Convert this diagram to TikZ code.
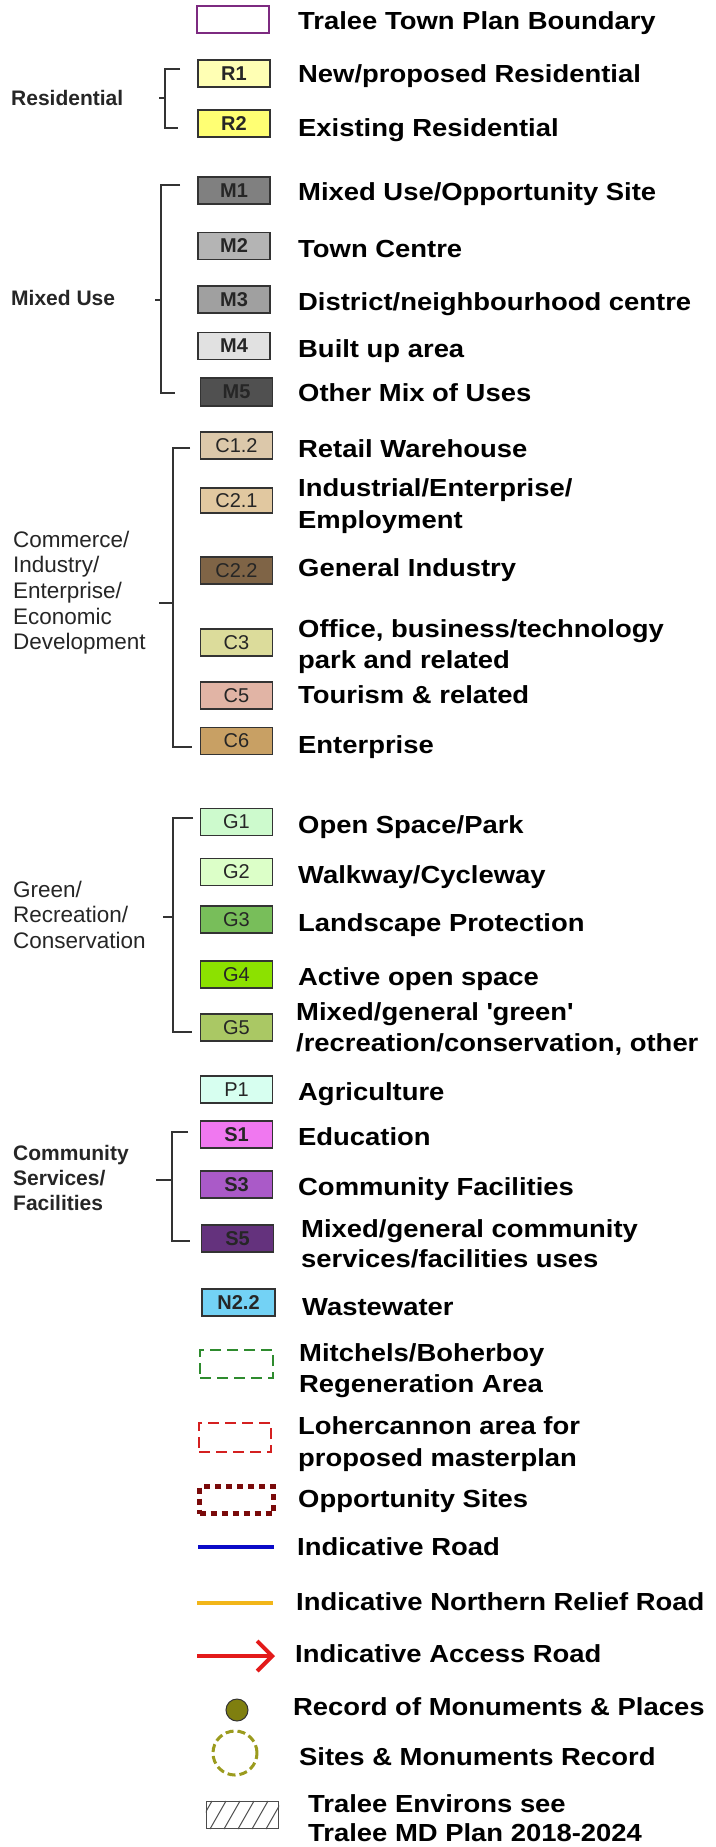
\documentclass[tikz,border=0pt]{standalone}
\usepackage{fontspec}
\setmainfont{Liberation Sans}
\newfontfamily\widefont[FakeStretch=1.11]{Liberation Sans}
\usetikzlibrary{arrows.meta}
\definecolor{bndc}{HTML}{7D2A80}
\definecolor{rA}{HTML}{FFFFB4}
\definecolor{rB}{HTML}{FFFF73}
\definecolor{mA}{HTML}{808080}
\definecolor{mB}{HTML}{B4B4B4}
\definecolor{mC}{HTML}{A0A0A0}
\definecolor{mD}{HTML}{E1E1E1}
\definecolor{mE}{HTML}{505050}
\definecolor{cA}{HTML}{DCC8AA}
\definecolor{cB}{HTML}{E1C8A0}
\definecolor{cC}{HTML}{7F6446}
\definecolor{cD}{HTML}{DCDC9B}
\definecolor{cE}{HTML}{E1B4A5}
\definecolor{cF}{HTML}{C8A064}
\definecolor{gA}{HTML}{CDFACD}
\definecolor{gB}{HTML}{DCFFC8}
\definecolor{gC}{HTML}{78BE5A}
\definecolor{gD}{HTML}{8CE100}
\definecolor{gE}{HTML}{AAC864}
\definecolor{pA}{HTML}{D7FFF0}
\definecolor{sA}{HTML}{F078F0}
\definecolor{sB}{HTML}{AA5AC8}
\definecolor{sC}{HTML}{64327D}
\definecolor{nA}{HTML}{73D2F5}
\definecolor{dgreen}{HTML}{2E8B2E}
\definecolor{dred}{HTML}{D42020}
\definecolor{maroon}{HTML}{7A0A0A}
\definecolor{roadblue}{HTML}{0A0AC8}
\definecolor{roadyellow}{HTML}{F2B619}
\definecolor{arrowred}{HTML}{E31A1A}
\definecolor{olivedot}{HTML}{7F7F0F}
\definecolor{olivering}{HTML}{9B9B1E}
\tikzset{
  lbl/.style={anchor=base west, inner sep=0pt, text=black, font={\widefont\bfseries\fontsize{24.7}{28}\selectfont}},
  grp/.style={anchor=base west, inner sep=0pt, text=black!85, font={\bfseries\fontsize{21}{25}\selectfont}},
  grpl/.style={anchor=base west, inner sep=0pt, text=black!85, font={\fontsize{22.5}{25}\selectfont}},
  sw/.style={draw=black!80, line width=1.3pt, minimum width=72pt, minimum height=27pt, inner sep=0pt, text=black!85, font={\bfseries\fontsize{20}{20}\selectfont}},
  swr/.style={sw, font={\fontsize{20}{20}\selectfont}},
  br/.style={draw=black!80, line width=1.4pt},
}
\begin{document}
\begin{tikzpicture}[x=1pt, y=-1pt]
\useasboundingbox (0,0) rectangle (715,1847);
\fill[white] (0,0) rectangle (715,1847);

% ---------- swatches ----------
\node[draw=bndc, line width=2.5pt, minimum width=72pt, minimum height=27pt, inner sep=0pt] (bnd) at (233,19.5) {};
\node[sw, fill=rA] (r1) at (234,73.5) {R1};
\node[sw, fill=rB] (r2) at (234,123.5) {R2};
\node[sw, fill=mA] (m1) at (234,190.5) {M1};
\node[sw, fill=mB] (m2) at (234,246) {M2};
\node[sw, fill=mC] (m3) at (234,299.5) {M3};
\node[sw, fill=mD] (m4) at (234,346) {M4};
\node[sw, fill=mE, minimum height=28pt] (m5) at (236.5,392) {M5};
\node[swr, fill=cA] (c12) at (236.5,445.5) {C1.2};
\node[swr, fill=cB, minimum height=25pt] (c21) at (236.5,500.5) {C2.1};
\node[swr, fill=cC] (c22) at (236.5,570.5) {C2.2};
\node[swr, fill=cD] (c3) at (236.5,642.5) {C3};
\node[swr, fill=cE] (c5) at (236.5,695.5) {C5};
\node[swr, fill=cF] (c6) at (236.5,741) {C6};
\node[swr, fill=gA] (g1) at (236.5,822) {G1};
\node[swr, fill=gB] (g2) at (236.5,872) {G2};
\node[swr, fill=gC] (g3) at (236.5,919.5) {G3};
\node[swr, fill=gD] (g4) at (236.5,974.5) {G4};
\node[swr, fill=gE] (g5) at (236.5,1027.5) {G5};
\node[swr, fill=pA] (p1) at (236.5,1089.5) {P1};
\node[sw, fill=sA] (s1) at (236.5,1134.5) {S1};
\node[sw, fill=sB] (s3) at (236.5,1184.5) {S3};
\node[sw, fill=sC] (s5) at (237.5,1238.5) {S5};
\node[sw, fill=nA, minimum width=73pt] (n22) at (238.5,1302.5) {N2.2};
\node[draw=dgreen, line width=2.5pt, dash pattern=on 11pt off 6pt, minimum width=73pt, minimum height=28pt, inner sep=0pt] (gd) at (236.5,1364) {};
\node[draw=dred, line width=2.5pt, dash pattern=on 11pt off 6pt, minimum width=72pt, minimum height=29pt, inner sep=0pt] (rd) at (235,1437.5) {};
\node[draw=maroon, line width=5pt, dash pattern=on 6pt off 5pt, minimum width=74pt, minimum height=27pt, inner sep=0pt] (op) at (236.5,1500) {};
\coordinate (bl1) at (198,1547);
\coordinate (bl2) at (274,1547);
\draw[roadblue, line width=3.5pt] (bl1) -- (bl2);
\coordinate (yl1) at (197,1603);
\coordinate (yl2) at (273,1603);
\draw[roadyellow, line width=4pt] (yl1) -- (yl2);
\coordinate (ar1) at (197,1656);
\coordinate (ar2) at (275,1656);
\draw[arrowred, line width=4pt, -{Straight Barb[length=15pt,width=30pt]}] (ar1) -- (ar2);
\node[circle, fill=olivedot, draw=black!80, line width=1pt, minimum size=22pt, inner sep=0pt] (rmp) at (237,1710) {};
\node[circle, draw=olivering, line width=3pt, dash pattern=on 8pt off 4pt, minimum size=44pt, inner sep=0pt] (smr) at (235,1753) {};
\node[draw=black!70, line width=1.2pt, minimum width=72pt, minimum height=27pt, inner sep=0pt] (hx) at (242.5,1815) {};
\begin{scope}
\clip (hx.south west) rectangle (hx.north east);
\foreach \k in {0,...,6} {
  \draw[black!70, line width=1pt] (196+\k*14,1829) -- (212+\k*14,1801);
}
\end{scope}

% ---------- brackets ----------
\draw[br] (180,69) -- (165,69) -- (165,128) -- (178,128);
\draw[br] (159,98) -- (165,98);
\draw[br] (180,185) -- (161,185) -- (161,393) -- (175,393);
\draw[br] (155,300) -- (161,300);
\draw[br] (190,448) -- (173,448) -- (173,747) -- (192,747);
\draw[br] (159,603) -- (173,603);
\draw[br] (193,818) -- (173,818) -- (173,1032) -- (192,1032);
\draw[br] (163,917) -- (173,917);
\draw[br] (188,1132) -- (172,1132) -- (172,1241) -- (190,1241);
\draw[br] (156,1180) -- (172,1180);

% ---------- group labels ----------
\node[grp] (lres) at (11,105) {Residential};
\node[grp] (lmix) at (11,305) {Mixed Use};
\node[grpl] (lcom1) at (13,547) {Commerce/};
\node[grpl] (lcom2) at (13,572.7) {Industry/};
\node[grpl] (lcom3) at (13,598.4) {Enterprise/};
\node[grpl] (lcom4) at (13,624.1) {Economic};
\node[grpl] (lcom5) at (13,649.8) {Development};
\node[grpl] (lgr1) at (13,897) {Green/};
\node[grpl] (lgr2) at (13,922.5) {Recreation/};
\node[grpl] (lgr3) at (13,948) {Conservation};
\node[grp] (lcs1) at (13,1160) {Community};
\node[grp] (lcs2) at (13,1185) {Services/};
\node[grp] (lcs3) at (13,1210) {Facilities};

% ---------- item labels ----------
\node[lbl] (t1) at (298,29) {Tralee Town Plan Boundary};
\node[lbl] (t2) at (298,82) {New/proposed Residential};
\node[lbl] (t3) at (298,136) {Existing Residential};
\node[lbl] (t4) at (298,200) {Mixed Use/Opportunity Site};
\node[lbl] (t5) at (298,257) {Town Centre};
\node[lbl] (t6) at (298,310) {District/neighbourhood centre};
\node[lbl] (t7) at (298,357) {Built up area};
\node[lbl] (t8) at (298,401) {Other Mix of Uses};
\node[lbl] (t9) at (298,457) {Retail Warehouse};
\node[lbl] (t10a) at (298,496) {Industrial/Enterprise/};
\node[lbl] (t10b) at (298,528) {Employment};
\node[lbl] (t11) at (298,576) {General Industry};
\node[lbl] (t12a) at (298,637) {Office, business/technology};
\node[lbl] (t12b) at (298,668) {park and related};
\node[lbl] (t13) at (298,703) {Tourism \& related};
\node[lbl] (t14) at (298,753) {Enterprise};
\node[lbl] (t15) at (298,833) {Open Space/Park};
\node[lbl] (t16) at (298,883) {Walkway/Cycleway};
\node[lbl] (t17) at (298,931) {Landscape Protection};
\node[lbl] (t18) at (298,985) {Active open space};
\node[lbl] (t19a) at (296,1020) {Mixed/general \textquotesingle green\textquotesingle};
\node[lbl] (t19b) at (296,1051) {/recreation/conservation, other};
\node[lbl] (t20) at (298,1100) {Agriculture};
\node[lbl] (t21) at (298,1145) {Education};
\node[lbl] (t22) at (298,1195) {Community Facilities};
\node[lbl] (t23a) at (301,1237) {Mixed/general community};
\node[lbl] (t23b) at (301,1267) {services/facilities uses};
\node[lbl] (t24) at (302,1315) {Wastewater};
\node[lbl] (t25a) at (299,1361) {Mitchels/Boherboy};
\node[lbl] (t25b) at (299,1392) {Regeneration Area};
\node[lbl] (t26a) at (298,1434) {Lohercannon area for};
\node[lbl] (t26b) at (298,1466) {proposed masterplan};
\node[lbl] (t27) at (298,1507) {Opportunity Sites};
\node[lbl] (t28) at (297,1555) {Indicative Road};
\node[lbl] (t29) at (296,1610) {Indicative Northern Relief Road};
\node[lbl] (t30) at (295,1662) {Indicative Access Road};
\node[lbl] (t31) at (293,1715) {Record of Monuments \& Places};
\node[lbl] (t32) at (299,1765) {Sites \& Monuments Record};
\node[lbl] (t33a) at (308,1812) {Tralee Environs see};
\node[lbl] (t33b) at (308,1841) {Tralee MD Plan 2018-2024};
\end{tikzpicture}
\end{document}
